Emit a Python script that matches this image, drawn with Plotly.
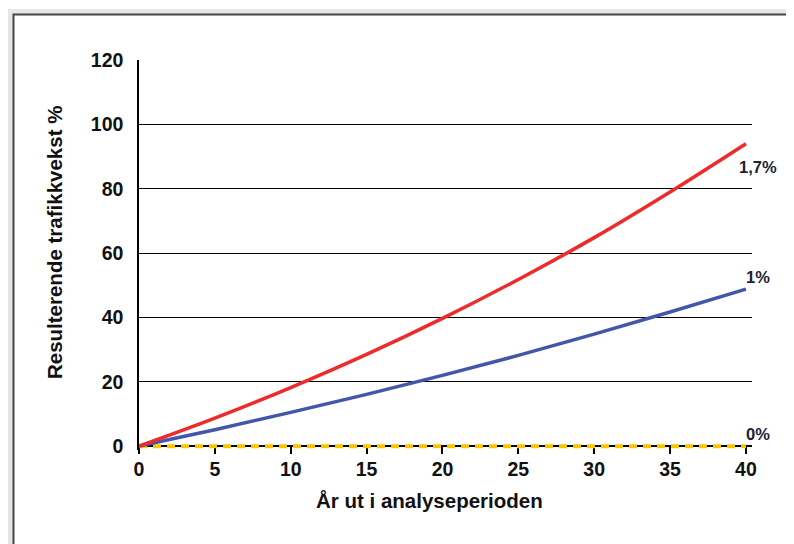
import plotly.graph_objects as go

years = [0, 5, 10, 15, 20, 25, 30, 35, 40]
growth_17 = [0, 8.7, 18.2, 28.5, 39.7, 51.8, 64.8, 79.0, 94.0]
growth_10 = [0, 5.1, 10.5, 16.1, 22.0, 28.2, 34.8, 41.7, 48.8]
growth_00 = [0, 0, 0, 0, 0, 0, 0, 0, 0]
labels = ["1,7%", "1%", "0%"]
y_ticks = [0, 20, 40, 60, 80, 100, 120]
x_ticks = [0, 5, 10, 15, 20, 25, 30, 35, 40]
x_title = "År ut i analyseperioden"
y_title = "Resulterende trafikkvekst %"

FONT = "Liberation Sans Narrow, Arial Narrow, Liberation Sans, Arial"

W, H = 794, 544
OFF = 8  # page body margin
Y_LOW = -1.2
PPU = (446 - 60) / 120.0
L, R, T = 139 - OFF, 752 - OFF, 60 - OFF
B = 446 + (-Y_LOW) * PPU - OFF


def px(x):
    return (x - OFF - L) / (R - L)


def py(y):
    return (B - (y - OFF)) / (B - T)


fig = go.Figure()
fig.add_trace(go.Scatter(x=years, y=growth_00, mode="lines",
                         line=dict(color="#f7c600", width=4, dash="8px,6px"),
                         hoverinfo="skip", showlegend=False))
fig.add_trace(go.Scatter(x=years, y=growth_10, mode="lines", line_shape="spline",
                         line=dict(color="#4257a8", width=3.5),
                         showlegend=False))
fig.add_trace(go.Scatter(x=years, y=growth_17, mode="lines", line_shape="spline",
                         line=dict(color="#ee2a2a", width=3.5),
                         showlegend=False))

ends = [growth_17[-1], growth_10[-1], growth_00[-1]]
anchors = [("top", -12, -9), ("bottom", 1, -2), ("bottom", 1, -2)]
for lab, yv, (ya, ys, xs) in zip(labels, ends, anchors):
    fig.add_annotation(x=years[-1], y=yv, text=lab, showarrow=False,
                       xanchor="left", yanchor=ya, xshift=xs, yshift=ys,
                       font=dict(family=FONT, size=16.5, color="#1c2233", weight="bold"))

# axis titles
fig.add_annotation(xref="paper", yref="paper", x=px(429.5), y=py(500),
                   text=x_title, showarrow=False, xanchor="center", yanchor="middle",
                   font=dict(family=FONT, size=20.5, color="#111111", weight="bold"))
fig.add_annotation(xref="paper", yref="paper", x=px(54), y=py(243),
                   text=y_title, showarrow=False, textangle=-90,
                   xanchor="center", yanchor="middle",
                   font=dict(family=FONT, size=20.5, color="#111111", weight="bold"))

# outer frame
fig.add_shape(type="rect", xref="paper", yref="paper",
              x0=px(6), x1=px(840), y0=py(9), y1=py(600),
              fillcolor="#e6e6e6", line=dict(width=0), layer="below")
fig.add_shape(type="rect", xref="paper", yref="paper",
              x0=px(13.5), x1=px(850), y0=py(14.5), y1=py(610),
              fillcolor="white", line=dict(color="#444444", width=2), layer="below")

fig.update_layout(
    width=W, height=H,
    margin=dict(l=L, r=W - R, t=T, b=H - B),
    paper_bgcolor="white",
    plot_bgcolor="rgba(0,0,0,0)",
    font=dict(family=FONT, color="#111111"),
)
fig.update_xaxes(
    range=[0, 40.4], tickvals=x_ticks, showgrid=False, zeroline=False,
    anchor="free", position=(-Y_LOW) / (120 - Y_LOW),
    showline=True, linecolor="black", linewidth=1.5, layer="below traces",
    ticks="outside", ticklen=7, tickcolor="black", tickwidth=1.5,
    ticklabelstandoff=-1,
    tickfont=dict(family=FONT, size=19.5, color="#111111", weight="bold"),
)
fig.update_yaxes(
    range=[Y_LOW, 120], tickvals=y_ticks, showgrid=True, gridcolor="black", gridwidth=1.2,
    zeroline=False, showline=True, linecolor="black", linewidth=1.5,
    ticks="", ticklabelstandoff=10,
    tickfont=dict(family=FONT, size=19.5, color="#111111", weight="bold"),
)

fig.write_html("out.html")
